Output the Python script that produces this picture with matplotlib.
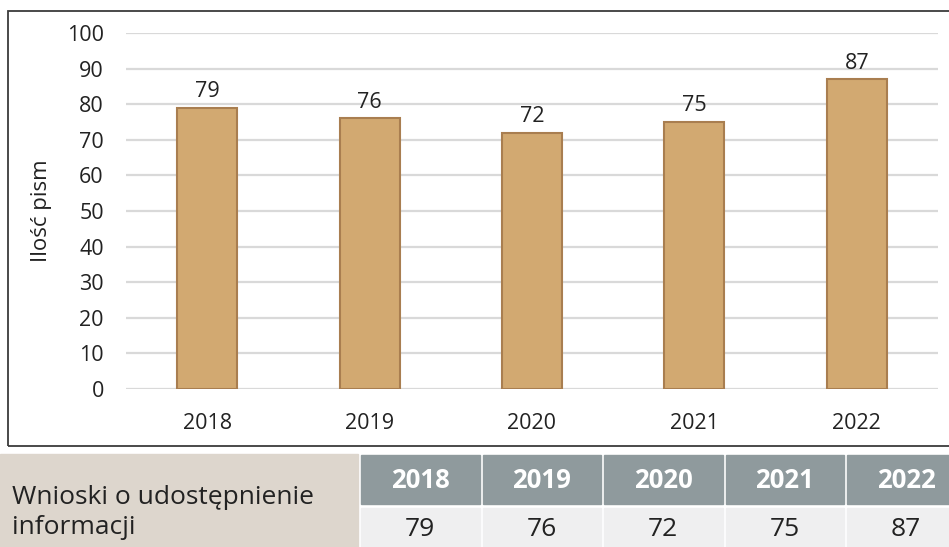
import matplotlib.pyplot as plt
from matplotlib.patches import Rectangle

years = ['2018', '2019', '2020', '2021', '2022']
letters = [79, 76, 72, 75, 87]
row_label = 'Wnioski o udostępnienie\ninformacji'

plt.rcParams['font.family'] = ['Open Sans', 'DejaVu Sans']

W, H = 949, 547
fig = plt.figure(figsize=(W / 100, H / 100), dpi=100)

# pixel helpers
def fx(px):
    return px / W

def fy(py):
    return 1 - py / H

# frame around the chart
fig.patches.append(Rectangle((fx(8), fy(446)), fx(960) - fx(8), fy(11) - fy(446),
                             transform=fig.transFigure, fill=False,
                             edgecolor='#3c3c3c', lw=1.3))

ax = fig.add_axes([fx(126), fy(389), fx(938) - fx(126), fy(33) - fy(389)])
x = range(len(years))
bars = ax.bar(x, letters, width=0.37, color='#D2A971', edgecolor='#A97E50',
              linewidth=1.5, zorder=3)
ax.bar_label(bars, padding=4, fontsize=15.5, color='#222222')

ax.set_xlim(-0.5, len(years) - 0.5)
ax.set_ylim(0, 100)
ax.set_yticks(range(0, 101, 10))
ax.set_xticks(list(x))
ax.set_xticklabels(years)
ax.tick_params(length=0, labelsize=15.5, labelcolor='#222222')
ax.tick_params(axis='y', pad=16)
ax.tick_params(axis='x', pad=17)
ax.grid(axis='y', color='#D9D9D9', lw=1.6, zorder=0)
for s in ax.spines.values():
    s.set_visible(False)
ax.set_ylabel('Ilość pism', fontsize=16, color='#222222')
ax.yaxis.set_label_coords(-0.091, 0.5)

# table below the chart
fig.patches.append(Rectangle((0, fy(547)), fx(358), fy(454) - fy(547),
                             transform=fig.transFigure, color='#DDD6CD'))
fig.text(fx(12), fy(497), row_label.split('\n')[0], fontsize=19,
         va='center', ha='left', color='#222222')
fig.text(fx(12), fy(528), row_label.split('\n')[1], fontsize=19,
         va='center', ha='left', color='#222222')

col_left = 361
col_w = 118.5
gap = 3
for i, (yr, v) in enumerate(zip(years, letters)):
    left = col_left + i * (col_w + gap)
    fig.patches.append(Rectangle((fx(left), fy(504)), fx(col_w), fy(455) - fy(504),
                                 transform=fig.transFigure, color='#8F9A9D'))
    fig.patches.append(Rectangle((fx(left), fy(547)), fx(col_w), fy(508) - fy(547),
                                 transform=fig.transFigure, color='#EFEFF0'))
    fig.text(fx(left + col_w / 2), fy(480), yr, fontsize=18.5, fontweight='bold',
             color='white', ha='center', va='center')
    fig.text(fx(left + col_w / 2), fy(530), str(v), fontsize=19,
             color='#222222', ha='center', va='center')

fig.savefig('out.png', dpi=100)
